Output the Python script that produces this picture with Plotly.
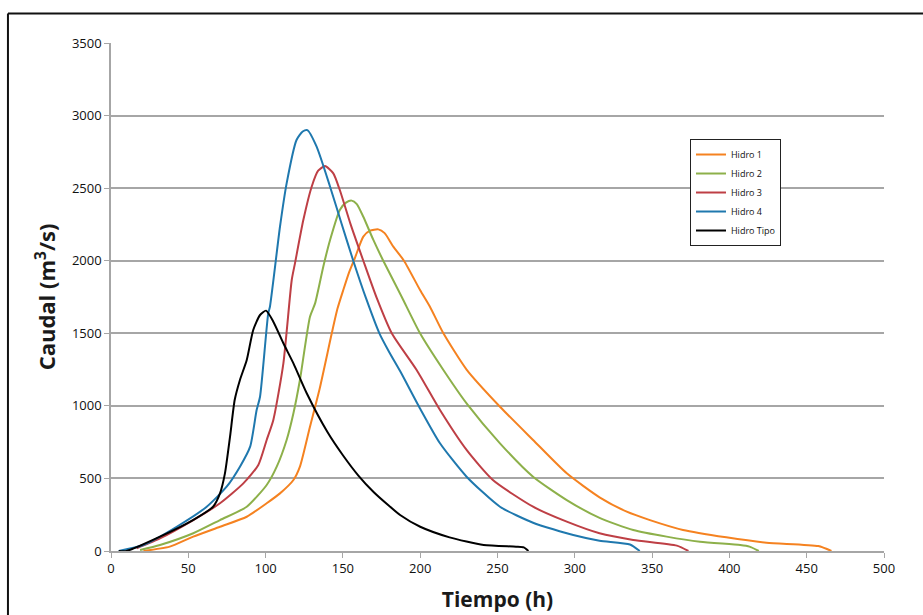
import plotly.graph_objects as go

# Hidro 1 (orange)
t1 = [21, 38, 53.2, 70.5, 87.8, 100.7, 109.3, 118, 122.2, 128.7, 135, 142.8, 146.5, 150.3, 154, 157.8, 163.2, 167.5, 172.9, 177, 182.6, 189.5, 199.9, 206.3, 215, 230, 251.6, 273, 294.8, 316, 333.6, 348.6, 370, 398, 424, 457.5, 466]
q1 = [0, 30, 99, 167, 236, 329, 397, 489, 581, 856, 1120, 1500, 1670, 1800, 1920, 2020, 2166, 2207, 2216, 2190, 2097, 2000, 1798, 1683, 1500, 1250, 994, 765, 535, 370, 271, 213, 145, 94, 57, 34, 0]

# Hidro 2 (green)
t2 = [18.8, 31.7, 53.2, 70.5, 87.8, 100.7, 107.2, 113.6, 118, 122.2, 128.7, 132, 137.3, 141.7, 148, 152, 155.7, 159, 163.2, 169.7, 176.1, 188, 199.9, 215, 230, 251.6, 273, 294.8, 316, 337.8, 359.4, 381, 407, 413, 419]
q2 = [7, 41, 122, 213, 305, 455, 581, 765, 949, 1178, 1614, 1706, 1959, 2143, 2350, 2400, 2414, 2390, 2303, 2143, 2000, 1752, 1500, 1247, 1017, 742, 512, 351, 228, 145, 99, 64, 41, 30, 0]

# Hidro 3 (red)
t3 = [16.6, 31.7, 53.2, 70.5, 85.6, 95.3, 100.7, 105, 111.5, 116.9, 119, 124.4, 129.8, 134, 138.4, 143.8, 148, 155, 163.2, 172, 181.6, 197.7, 212.8, 230, 247, 273, 294.8, 316, 337.8, 366, 373.5]
q3 = [19, 87, 213, 329, 466, 593, 765, 903, 1293, 1867, 1982, 2280, 2510, 2620, 2652, 2602, 2487, 2250, 2000, 1740, 1500, 1247, 971, 696, 489, 305, 202, 122, 76, 37, 0]

# Hidro 4 (blue)
t4 = [5, 21, 42.5, 61.9, 74.8, 83.4, 90, 94.2, 96.4, 101.7, 102.8, 109.3, 113.6, 120, 124, 127, 133, 141.7, 149, 156.7, 165, 173.6, 180, 187, 200, 212.8, 230, 251.6, 273, 299, 316, 335.7, 342]
q4 = [0, 41, 167, 305, 443, 581, 719, 971, 1063, 1637, 1683, 2234, 2533, 2832, 2890, 2900, 2786, 2510, 2260, 2000, 1740, 1500, 1370, 1240, 980, 742, 512, 305, 195, 110, 71, 45, 0]

# Hidro Tipo (black)
t5 = [5, 10, 31.7, 53, 66, 70.5, 73.7, 77, 80, 83.4, 87.8, 92, 96.4, 100.3, 105, 111.5, 118, 126.6, 140, 150, 160, 170, 180, 187, 200, 219, 241, 262, 267, 270]
q5 = [0, 0, 99, 213, 305, 397, 535, 788, 1040, 1178, 1316, 1523, 1626, 1656, 1580, 1431, 1293, 1087, 820, 660, 520, 405, 310, 248, 167, 94, 41, 30, 25, 0]

names = ["Hidro 1", "Hidro 2", "Hidro 3", "Hidro 4", "Hidro Tipo"]
colors = ["#F58220", "#8DB04A", "#BE3F45", "#1F78AE", "#000000"]
xs = [t1, t2, t3, t4, t5]
ys = [q1, q2, q3, q4, q5]

y_ticks = [0, 500, 1000, 1500, 2000, 2500, 3000, 3500]
x_ticks = [0, 50, 100, 150, 200, 250, 300, 350, 400, 450, 500]

fig = go.Figure()
for n, c, x, y in zip(names, colors, xs, ys):
    fig.add_trace(go.Scatter(x=x, y=y, name=n, mode="lines",
                             line=dict(color=c, width=2, shape="spline", smoothing=0.6)))

fig.update_layout(
    width=923, height=615,
    margin=dict(l=111, r=39, t=43, b=64),
    paper_bgcolor="white", plot_bgcolor="white",
    font=dict(family="Open Sans, Liberation Sans, sans-serif", color="#1a1a1a"),
    showlegend=True,
    legend=dict(x=0.749, y=0.811, xanchor="left", yanchor="top",
                bordercolor="#222", borderwidth=1, bgcolor="white",
                font=dict(size=9, color="#111"), tracegroupgap=0,
                itemwidth=30),
    xaxis=dict(range=[0, 500], tickvals=x_ticks, showgrid=False, zeroline=False,
               showline=True, linecolor="#a6a6a6", linewidth=1.5,
               ticks="outside", ticklen=5, tickcolor="#a6a6a6",
               tickfont=dict(size=13, color="#111"), automargin=False,
               title=dict(text="<b>Tiempo (h)</b>", font=dict(size=21, color="#1a1a1a"), standoff=16)),
    yaxis=dict(range=[0, 3500], tickvals=y_ticks, showgrid=True, gridcolor="#a6a6a6", gridwidth=1.5,
               zeroline=False, showline=True, linecolor="#a6a6a6", linewidth=1.5,
               ticks="outside", ticklen=5, tickcolor="#a6a6a6",
               tickfont=dict(size=13, color="#111"), automargin=False,
               title=dict(text="<b>Caudal (m<sup>3</sup>/s)</b>", font=dict(size=22, color="#1a1a1a"), standoff=10)),
)

# outer frame (top and left edges visible)
fig.add_shape(type="line", xref="paper", yref="paper", x0=-0.1333, x1=1.2, y0=1.058, y1=1.058,
              line=dict(color="#111", width=2))
fig.add_shape(type="line", xref="paper", yref="paper", x0=-0.1333, x1=-0.1333, y0=-0.2, y1=1.058,
              line=dict(color="#111", width=2))

fig.write_html("out.html")
